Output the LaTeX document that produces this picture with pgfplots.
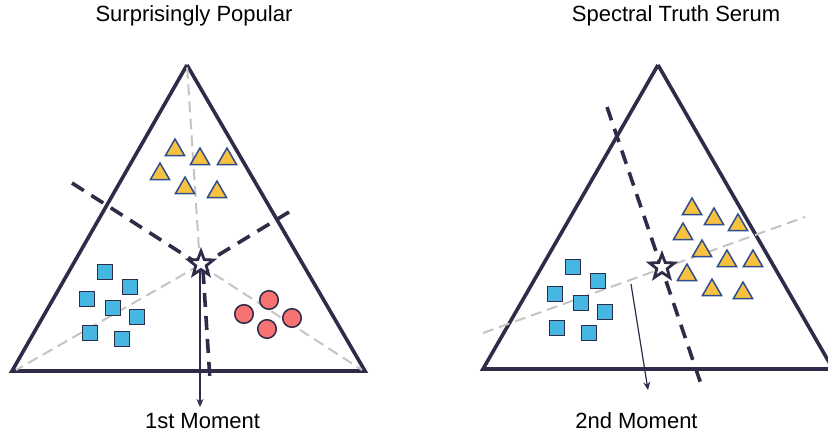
\documentclass[border=0pt]{standalone}
\usepackage{fontspec}
\setmainfont{Liberation Sans}
\usepackage{pgfplots}
\pgfplotsset{compat=1.18}
\usetikzlibrary{arrows.meta}
\definecolor{navy}{HTML}{2E2C48}
\definecolor{sqblue}{HTML}{45B7E2}
\definecolor{triyel}{HTML}{F8C240}
\definecolor{tribord}{HTML}{2F4E8C}
\definecolor{circred}{HTML}{F77272}
\definecolor{lgrey}{HTML}{C4C4C4}
\pgfdeclareplotmark{ostar}{%
  \pgfpathmoveto{\pgfpointpolar{90}{\pgfplotmarksize}}%
  \pgfpathlineto{\pgfpointpolar{126}{0.42\pgfplotmarksize}}%
  \pgfpathlineto{\pgfpointpolar{162}{\pgfplotmarksize}}%
  \pgfpathlineto{\pgfpointpolar{198}{0.42\pgfplotmarksize}}%
  \pgfpathlineto{\pgfpointpolar{234}{\pgfplotmarksize}}%
  \pgfpathlineto{\pgfpointpolar{270}{0.42\pgfplotmarksize}}%
  \pgfpathlineto{\pgfpointpolar{306}{\pgfplotmarksize}}%
  \pgfpathlineto{\pgfpointpolar{342}{0.42\pgfplotmarksize}}%
  \pgfpathlineto{\pgfpointpolar{18}{\pgfplotmarksize}}%
  \pgfpathlineto{\pgfpointpolar{54}{0.42\pgfplotmarksize}}%
  \pgfpathclose
  \pgfusepathqfillstroke
}
\begin{document}
\begin{tikzpicture}
\begin{axis}[
  width=828pt, height=434pt, scale only axis,
  xmin=0, xmax=828, ymin=0, ymax=434, y dir=reverse,
  hide axis, clip=true,
]
\coordinate (BL) at (axis cs:0,434);
\coordinate (TR) at (axis cs:828,0);
% triangles
\addplot[navy, line width=3.6pt, line join=miter] coordinates {(187,65) (12,371) (365,371) (187,65)};
\addplot[navy, line width=3.6pt, line join=miter] coordinates {(658,65) (483,369) (833,369) (658,65)};
% grey dashed (left)
\addplot[lgrey, line width=2pt, dash pattern=on 11pt off 6pt] coordinates {(200,265) (187,65)};
\addplot[lgrey, line width=2pt, dash pattern=on 11pt off 6pt] coordinates {(200,265) (16,370)};
\addplot[lgrey, line width=2pt, dash pattern=on 11pt off 6pt] coordinates {(200,265) (362,370)};
% grey dashed (right)
\addplot[lgrey, line width=2pt, dash pattern=on 11pt off 6pt] coordinates {(483,333) (805,217)};
% dark dashed (left)
\addplot[navy, line width=3.6pt, dash pattern=on 14pt off 9pt] coordinates {(72,183) (200,265)};
\addplot[navy, line width=3.6pt, dash pattern=on 14pt off 9pt] coordinates {(289,212) (202,265)};
\addplot[navy, line width=3.6pt, dash pattern=on 14pt off 9pt] coordinates {(203,270) (210,380)};
% dark dashed (right)
\addplot[navy, line width=3.6pt, dash pattern=on 14pt off 9pt] coordinates {(607,107) (703,390)};
% arrows
\addplot[navy, line width=1.2pt, -{Stealth[length=8pt,width=7pt]}] coordinates {(200,270) (200,407)};
\addplot[navy, line width=1.2pt, -{Stealth[length=8pt,width=7pt]}] coordinates {(631,284) (648,390)};
% yellow triangles
\addplot[only marks, mark=triangle*, mark size=11pt, mark options={fill=triyel, draw=tribord, line width=1.5pt}] coordinates {
(175,150) (200,159) (227,159) (160,174) (185,188) (217,192)
(692,209) (714,219) (738,225) (683,234) (702,251) (727,261) (753,261) (687,275) (712,290) (743,293)};
% blue squares
\addplot[only marks, mark=square*, mark size=7.5pt, mark options={fill=sqblue, draw=navy, line width=1.5pt}] coordinates {
(105,272) (130,287) (87,299) (113,308) (137,317) (90,333) (122,339)
(573,267) (598,281) (555,294) (581,303) (605,312) (557,328) (589,333)};
% red circles
\addplot[only marks, mark=*, mark size=9.3pt, mark options={fill=circred, draw=navy, line width=1.5pt}] coordinates {
(269,300) (244,314) (292,318) (267,329)};
% stars
\addplot[only marks, mark=ostar, mark size=13pt, mark options={fill=white, draw=navy, line width=2.8pt, line join=miter}] coordinates {(201,264) (662,267)};
\end{axis}
\begin{axis}[
  width=828pt, height=434pt, scale only axis,
  xmin=0, xmax=828, ymin=0, ymax=434, y dir=reverse,
  hide axis, clip=false,
]
\node[anchor=base, font=\fontsize{22}{24}\selectfont, inner sep=0pt] at (axis cs:194,21) {Surprisingly Popular};
\node[anchor=base, font=\fontsize{22}{24}\selectfont, inner sep=0pt] at (axis cs:676,21) {Spectral Truth Serum};
\node[anchor=base, font=\fontsize{22}{24}\selectfont, inner sep=0pt] at (axis cs:202.5,428) {1st Moment};
\node[anchor=base, font=\fontsize{22}{24}\selectfont, inner sep=0pt] at (axis cs:636.5,428) {2nd Moment};
\end{axis}
\pgfresetboundingbox
\path[use as bounding box] (BL) rectangle (TR);
\end{tikzpicture}
\end{document}
